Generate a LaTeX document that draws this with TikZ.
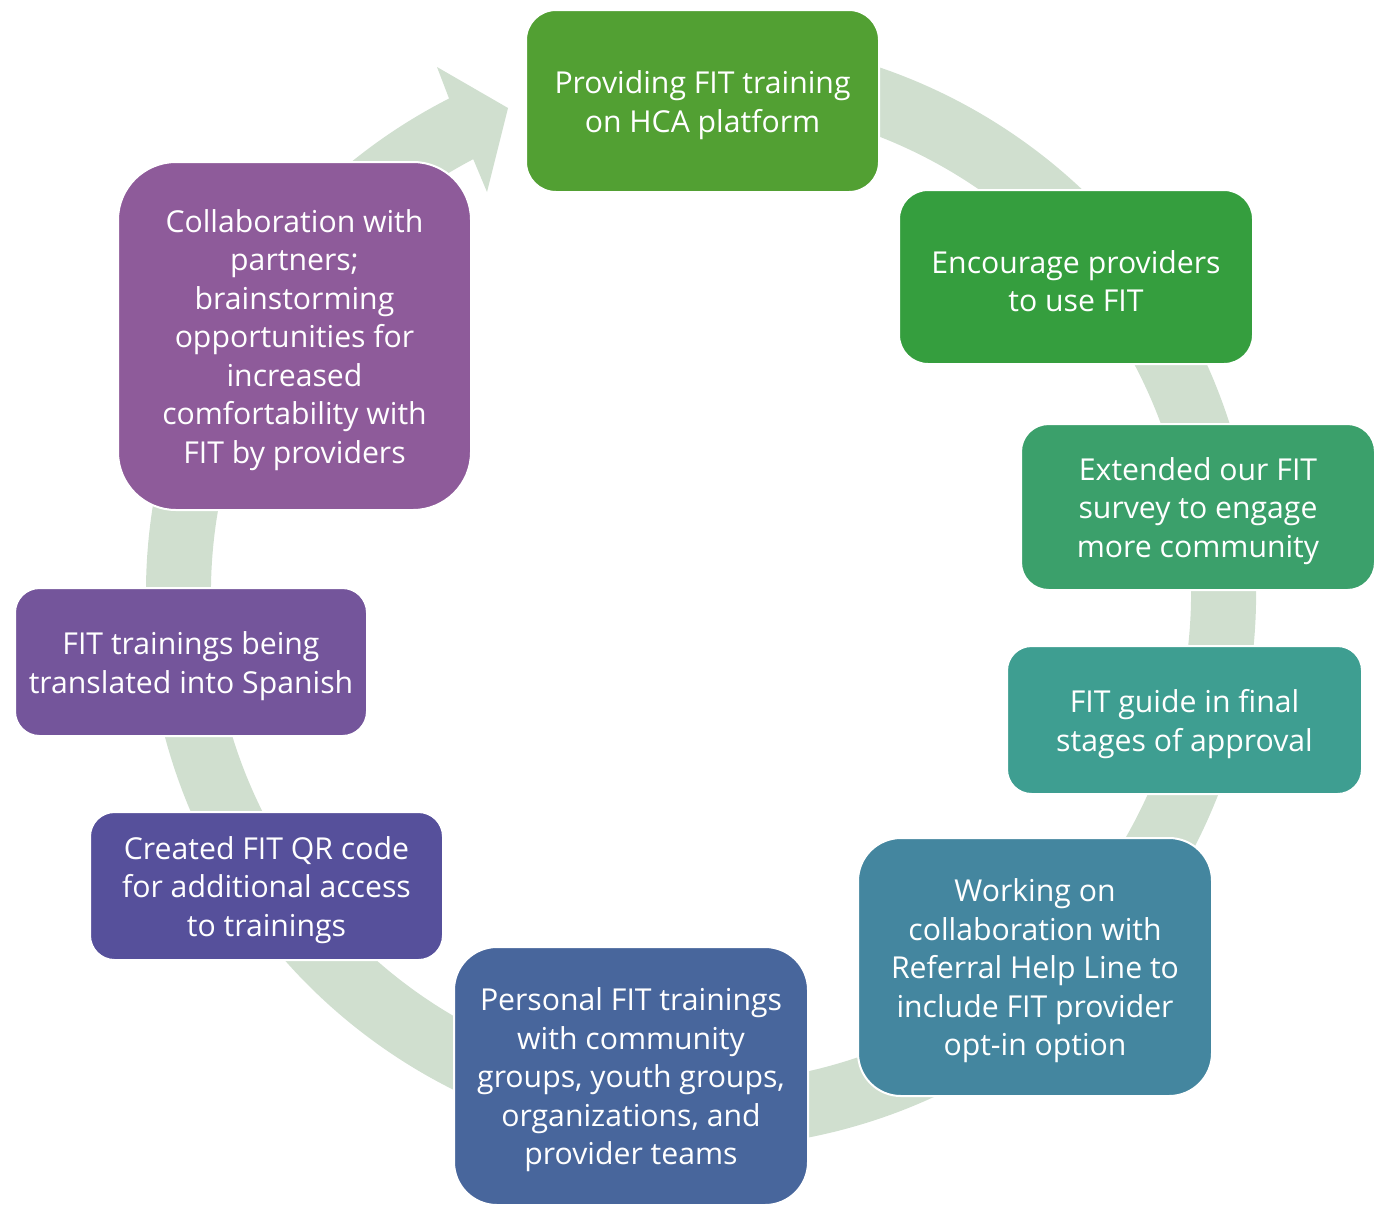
\documentclass[tikz,border=0pt]{standalone}
\usepackage{fontspec}
\setmainfont{Open Sans}
\usetikzlibrary{calc}
\definecolor{arcc}{HTML}{D0DFCF}
\definecolor{cA}{HTML}{52A033}
\definecolor{cB}{HTML}{359E3E}
\definecolor{cC}{HTML}{3BA06B}
\definecolor{cD}{HTML}{3E9E91}
\definecolor{cE}{HTML}{44869F}
\definecolor{cF}{HTML}{48669C}
\definecolor{cG}{HTML}{56509B}
\definecolor{cH}{HTML}{74559B}
\definecolor{cI}{HTML}{8E5B9A}
\tikzset{
  box/.style={draw=white, line width=1pt, inner sep=0pt},
  lbl/.style={text=white, align=center, inner sep=0pt,
    font=\fontsize{15.1}{19.25}\selectfont}
}
\begin{document}
\begin{tikzpicture}[x=0.5pt,y=-0.5pt]
\useasboundingbox (0,0) rectangle (1379,1205);
\coordinate (c) at (701,593);
% circular arrow band
\fill[arcc] ($(c)+(-100:555)$) arc[start angle=-100, end angle=243, radius=555]
  -- (437,67) -- (508,108) -- (487,192)
  -- ($(c)+(242.3:490)$) arc[start angle=242.3, end angle=-100, radius=490] -- cycle;
% boxes
\node[box, fill=cA, minimum width=176.5pt, minimum height=91pt, rounded corners=15pt] (b1) at (702.5,101) {};
\node[lbl] (t1) at ([yshift=-2pt]b1.center) {Providing FIT training\\on HCA platform};
\node[box, fill=cB, minimum width=177pt, minimum height=87pt, rounded corners=14.5pt] (b2) at (1076,277) {};
\node[lbl] (t2) at ([yshift=-2pt]b2.center) {Encourage providers\\to use FIT};
\node[box, fill=cC, minimum width=177pt, minimum height=83pt, rounded corners=13.8pt] (b3) at (1198,507) {};
\node[lbl] (t3) at ([yshift=-2pt]b3.center) {Extended our FIT\\survey to engage\\more community};
\node[box, fill=cD, minimum width=177.5pt, minimum height=74pt, rounded corners=12.3pt] (b4) at (1184.5,720) {};
\node[lbl] (t4) at ([yshift=-2pt]b4.center) {FIT guide in final\\stages of approval};
\node[box, fill=cE, minimum width=177pt, minimum height=129pt, rounded corners=21.5pt] (b5) at (1035,967) {};
\node[lbl] (t5) at ([yshift=-2pt]b5.center) {Working on\\collaboration with\\Referral Help Line to\\include FIT provider\\opt-in option};
\node[box, fill=cF, minimum width=177pt, minimum height=129pt, rounded corners=21.5pt] (b6) at (631,1076) {};
\node[lbl] (t6) at ([yshift=-2pt]b6.center) {Personal FIT trainings\\with community\\groups, youth groups,\\organizations, and\\provider teams};
\node[box, fill=cG, minimum width=176.5pt, minimum height=74pt, rounded corners=12.3pt] (b7) at (266.5,886) {};
\node[lbl] (t7) at ([yshift=-2pt]b7.center) {Created FIT QR code\\for additional access\\to trainings};
\node[box, fill=cH, minimum width=176pt, minimum height=74pt, rounded corners=12.3pt] (b8) at (191,662) {};
\node[lbl] (t8) at ([yshift=-2pt]b8.center) {FIT trainings being\\translated into Spanish};
\node[box, fill=cI, minimum width=176.5pt, minimum height=174pt, rounded corners=29pt] (b9) at (294.5,336) {};
\node[lbl] (t9) at ([yshift=-2pt]b9.center) {Collaboration with\\partners;\\brainstorming\\opportunities for\\increased\\comfortability with\\FIT by providers};
\end{tikzpicture}
\end{document}
